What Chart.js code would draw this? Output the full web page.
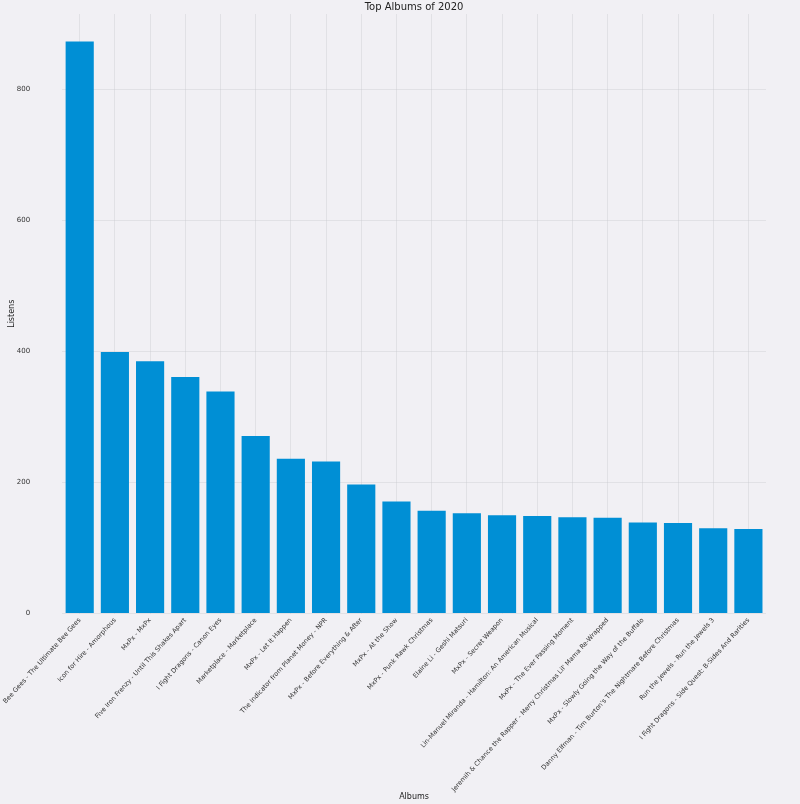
<!DOCTYPE html>
<html>
<head>
<meta charset="utf-8">
<script src="https://cdn.jsdelivr.net/npm/chart.js@4"></script>
<style>
  html, body { margin: 0; padding: 0; background: #f1f0f4; }
  #wrap { width: 800px; height: 804px; }
</style>
</head>
<body>
<div id="wrap"><canvas id="myChart" width="800" height="804"></canvas></div>
<script>
var chartTitle = 'Top Albums of 2020';
var albums = [
    "Bee Gees - The Ultimate Bee Gees",
    "Icon for Hire - Amorphous",
    "MxPx - MxPx",
    "Five Iron Frenzy - Until This Shakes Apart",
    "I Fight Dragons - Canon Eyes",
    "Marketplace - Marketplace",
    "MxPx - Let It Happen",
    "The Indicator from Planet Money - NPR",
    "MxPx - Before Everything & After",
    "MxPx - At the Show",
    "MxPx - Punk Rawk Christmas",
    "Elaine Li - Geshi Matsuri",
    "MxPx - Secret Weapon",
    "Lin-Manuel Miranda - Hamilton: An American Musical",
    "MxPx - The Ever Passing Moment",
    "Jeremih & Chance the Rapper - Merry Christmas Lil' Mama Re-Wrapped",
    "MxPx - Slowly Going the Way of the Buffalo",
    "Danny Elfman - Tim Burton's The Nightmare Before Christmas",
    "Run the Jewels - Run the Jewels 3",
    "I Fight Dragons - Side Quest: B-Sides And Rarities"
];
var listens = [873, 399, 385, 361, 339, 271, 236, 232, 197, 171, 157, 153, 150, 149, 147, 146, 139, 138, 130, 129];
var yTicks = [0, 200, 400, 600, 800];

// background fill + title centred over the plot area (like matplotlib)
var bgPlugin = {
    id: 'bg',
    beforeDraw: function(chart) {
        var c = chart.ctx;
        c.save();
        c.fillStyle = '#f1f0f4';
        c.fillRect(0, 0, chart.width, chart.height);
        c.restore();
    },
    afterDraw: function(chart) {
        var c = chart.ctx, a = chart.chartArea;
        c.save();
        c.fillStyle = '#222';
        c.font = '10px "DejaVu Sans"';
        c.textAlign = 'center';
        c.textBaseline = 'middle';
        c.fillText(chartTitle, (a.left + a.right) / 2, 7.5);
        c.restore();
    }
};

var config = {
    type: 'bar',
    data: {
        labels: albums,
        datasets: [{
            label: 'Listens',
            data: listens,
            backgroundColor: '#008fd5',
            borderWidth: 0,
            barPercentage: 0.8,
            categoryPercentage: 1.0
        }]
    },
    options: {
        responsive: false,
        animation: false,
        devicePixelRatio: 1,
        layout: { padding: { left: 0, right: 34, top: 14, bottom: 0 } },
        plugins: {
            legend: { display: false },
            tooltip: { enabled: false },
            title: { display: false }
        },
        scales: {
            x: {
                grid: { offset: false, color: 'rgba(200,199,206,0.38)', drawTicks: false },
                border: { display: false },
                ticks: {
                    autoSkip: false,
                    minRotation: 48,
                    maxRotation: 48,
                    padding: 3,
                    color: '#333',
                    font: { family: 'DejaVu Sans', size: 6.5 }
                },
                title: {
                    display: true,
                    text: 'Albums',
                    color: '#222',
                    font: { family: 'DejaVu Sans', size: 8 },
                    padding: { top: 0, bottom: 2 }
                },
                afterFit: function(s) { s.height = 190.5; }
            },
            y: {
                min: 0,
                max: 915,
                grid: { color: 'rgba(200,199,206,0.38)', drawTicks: false },
                border: { display: false },
                afterBuildTicks: function(s) {
                    s.ticks = yTicks.map(function(v) { return { value: v }; });
                },
                ticks: {
                    padding: 32,
                    color: '#333',
                    font: { family: 'DejaVu Sans', size: 7 }
                },
                title: {
                    display: true,
                    text: 'Listens',
                    color: '#222',
                    font: { family: 'DejaVu Sans', size: 8 },
                    padding: { top: 5, bottom: 0 }
                },
                afterFit: function(s) {
                    s.width = 60.4;
                    s.paddingTop = 0;
                    s.paddingBottom = 0;
                }
            }
        }
    },
    plugins: [bgPlugin]
};

var ctx = document.getElementById("myChart").getContext("2d");
window.myBar = new Chart(ctx, config);
</script>
</body>
</html>
